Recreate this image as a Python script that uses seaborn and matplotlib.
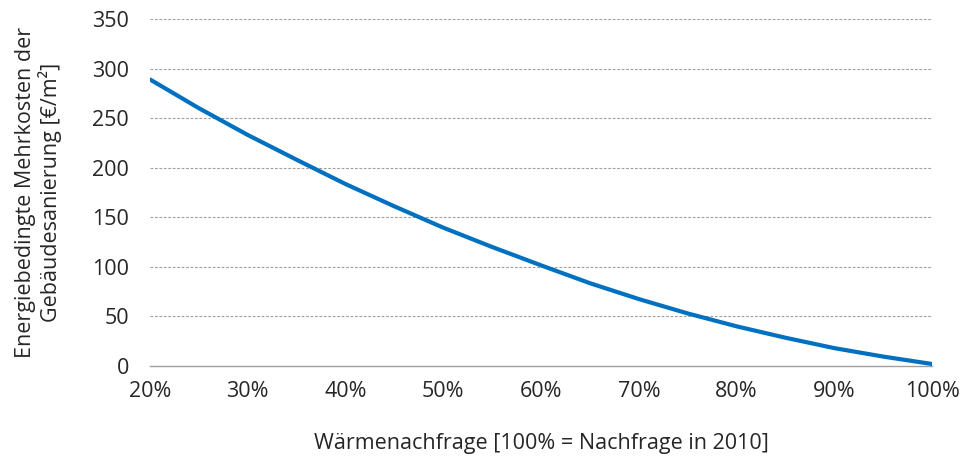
import matplotlib
matplotlib.use("Agg")
import matplotlib.pyplot as plt
import seaborn as sns
import pandas as pd

demand_pct = [20, 25, 30, 35, 40, 45, 50, 55, 60, 65, 70, 75, 80, 85, 90, 95, 100]
extra_cost = [289, 260, 233, 208, 183.5, 161, 139.5, 120, 101.5, 83.5, 67.5, 53, 40, 28.5, 18, 9.5, 2]
x_ticks = [20, 30, 40, 50, 60, 70, 80, 90, 100]
x_tick_labels = ["20%", "30%", "40%", "50%", "60%", "70%", "80%", "90%", "100%"]
y_ticks = [0, 50, 100, 150, 200, 250, 300, 350]

sns.set_style("white")
plt.rcParams["font.family"] = ["Open Sans", "DejaVu Sans"]

df = pd.DataFrame({"x": demand_pct, "y": extra_cost})

fig = plt.figure(figsize=(9.63, 4.63), dpi=100)
ax = fig.add_axes([0.1558, 0.2095, 0.968 - 0.1558, 0.959 - 0.2095])

for yv in y_ticks[1:]:
    ax.axhline(yv, color="#a0a0a0", lw=0.8, ls=(0, (2.5, 1.5)), zorder=1)

sns.lineplot(data=df, x="x", y="y", ax=ax, color="#0070C0", lw=3, zorder=3)

ax.set_xlim(20, 100)
ax.set_ylim(0, 350)
ax.set_xticks(x_ticks)
ax.set_xticklabels(x_tick_labels, fontsize=15.5)
ax.set_yticks(y_ticks)
ax.set_yticklabels([str(v) for v in y_ticks], fontsize=15.5)

for s in ["top", "right", "left"]:
    ax.spines[s].set_visible(False)
ax.spines["bottom"].set_color("#a0a0a0")
ax.spines["bottom"].set_linewidth(1.0)
ax.tick_params(axis="x", direction="out", length=6, width=1, color="#a0a0a0", pad=5)
ax.tick_params(axis="y", length=0, pad=15)

ax.set_xlabel("Wärmenachfrage [100% = Nachfrage in 2010]", fontsize=15.5, labelpad=22)
ax.set_ylabel("Energiebedingte Mehrkosten der\nGebäudesanierung [€/m²]", fontsize=15.5,
              labelpad=22, linespacing=1.1)

fig.savefig("out.png", dpi=100)
